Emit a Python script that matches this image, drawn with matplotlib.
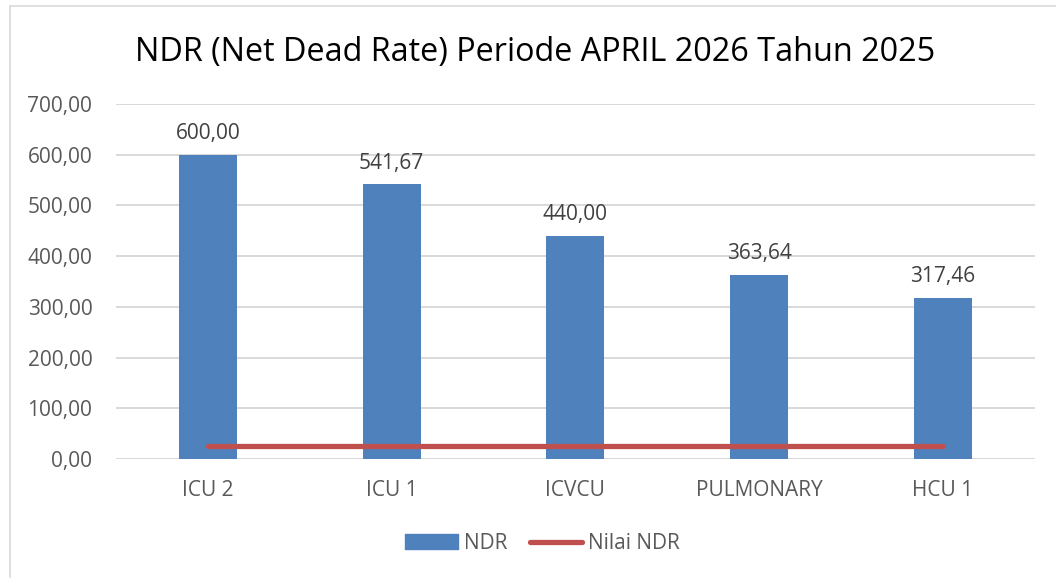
import matplotlib
matplotlib.use("Agg")
import matplotlib.pyplot as plt
from matplotlib.patches import Rectangle
from matplotlib.lines import Line2D
import numpy as np

# ── data ──────────────────────────────────────────────────────────────────────
units = ["ICU 2", "ICU 1", "ICVCU", "PULMONARY", "HCU 1"]
ndr = [600.00, 541.67, 440.00, 363.64, 317.46]
nilai_ndr = [25, 25, 25, 25, 25]

BLUE = "#4F81BD"
RED = "#C0504D"
GRID = "#D9D9D9"
TXT = "#595959"
FS = 15

plt.rcParams["font.family"] = ["Open Sans", "DejaVu Sans"]

fig = plt.figure(figsize=(10.56, 5.78), dpi=100, facecolor="white")
ax = fig.add_axes([0.1098, 0.2059, 0.8702, 0.6141])

x = np.arange(len(units))
ax.bar(x, ndr, width=0.315, color=BLUE, zorder=3)
ax.plot(x, nilai_ndr, color=RED, lw=3.8, solid_capstyle="round", zorder=4)

for xi, v in zip(x, ndr):
    ax.text(xi, v + 21, f"{v:.2f}".replace(".", ","), ha="center", va="bottom",
            fontsize=FS, color="#404040")

ax.set_xlim(-0.5, len(units) - 0.5)
ax.set_ylim(0, 700)
ax.set_yticks(np.arange(0, 701, 100))
ax.set_yticklabels([f"{t:.2f}".replace(".", ",") for t in np.arange(0, 701, 100)])
ax.set_xticks(x)
ax.set_xticklabels(units)
ax.tick_params(axis="both", length=0, labelsize=FS, labelcolor=TXT)
ax.tick_params(axis="x", pad=15)
ax.tick_params(axis="y", pad=17)
ax.grid(axis="y", color=GRID, lw=1.4, zorder=0)
for s in ax.spines.values():
    s.set_visible(False)

fig.text(0.507, 0.91, "NDR (Net Dead Rate) Periode APRIL 2026 Tahun 2025",
         ha="center", va="center", fontsize=23.3, color="black")

# chart border (partially visible as in the reference crop)
fig.add_artist(Line2D([0.0095, 1.0], [0.99, 0.99], transform=fig.transFigure,
                      color=GRID, lw=1.2))
fig.add_artist(Line2D([0.0095, 0.0095], [0.0, 0.99], transform=fig.transFigure,
                      color=GRID, lw=1.2))

handles = [Rectangle((0, 0), 1, 1, color=BLUE),
           Line2D([0], [0], color=RED, lw=3.8, solid_capstyle="round")]
fig.legend(handles, ["NDR", "Nilai NDR"], loc="center", bbox_to_anchor=(0.514, 0.06),
           ncol=2, frameon=False, fontsize=FS, labelcolor=TXT,
           handlelength=2.5, handleheight=0.7, columnspacing=1.1, handletextpad=0.3)

plt.savefig("out.png", dpi=100, facecolor="white")
plt.close()
